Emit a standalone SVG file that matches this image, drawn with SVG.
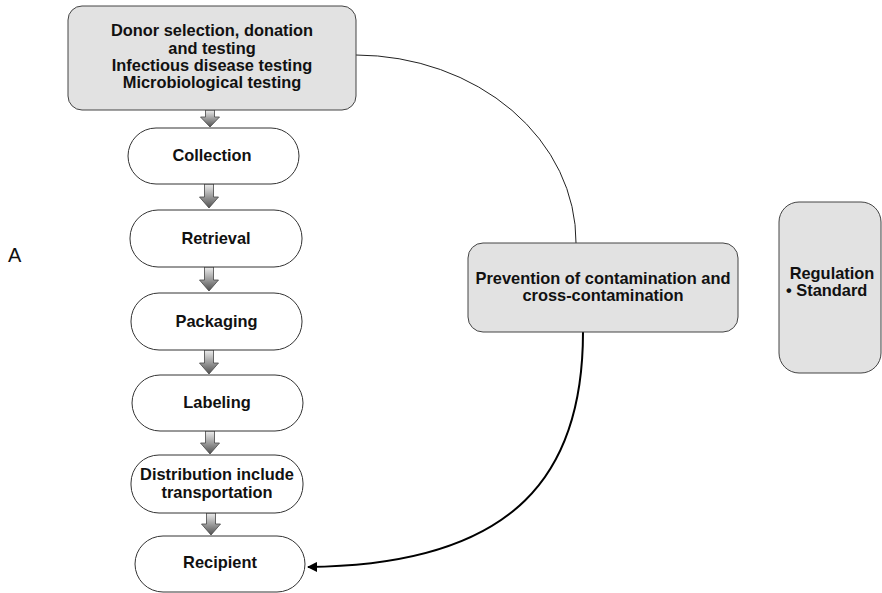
<svg xmlns="http://www.w3.org/2000/svg" width="882" height="593" viewBox="0 0 882 593">
<defs>
<linearGradient id="ag" x1="0" y1="0" x2="0" y2="1">
<stop offset="0" stop-color="#eeeeee"/>
<stop offset="1" stop-color="#505050"/>
</linearGradient>
<marker id="ah" viewBox="0 0 10 10" refX="9" refY="5" markerWidth="5" markerHeight="5" orient="auto">
<path d="M0,0 L10,5 L0,10 Z" fill="#000"/>
</marker>
<style>
.box{fill:#e2e2e2;stroke:#444;stroke-width:1}
.pill{fill:#fff;stroke:#333;stroke-width:1}
.t{font-family:"Liberation Sans",Arial,sans-serif;font-weight:bold;font-size:16.4px;fill:#111;text-anchor:middle}
.blk{fill:url(#ag);stroke:#444;stroke-width:0.8}
</style>
</defs>
<rect width="882" height="593" fill="#fff"/>
<text x="8" y="262" font-family="Liberation Sans,Arial,sans-serif" font-size="20" fill="#111">A</text>
<g id="connectors">
<path class="blk" d="M205.5,110 L214.5,110 L214.5,117 L219.5,117 L210,127 L200.5,117 L205.5,117 Z"/>
<path class="blk" d="M204.5,184 L213.5,184 L213.5,197 L218.5,197 L209,208 L199.5,197 L204.5,197 Z"/>
<path class="blk" d="M204.5,267 L213.5,267 L213.5,280 L218.5,280 L209,291 L199.5,280 L204.5,280 Z"/>
<path class="blk" d="M204.5,350 L213.5,350 L213.5,363 L218.5,363 L209,374 L199.5,363 L204.5,363 Z"/>
<path class="blk" d="M205.5,431 L214.5,431 L214.5,443 L219.5,443 L210,454 L200.5,443 L205.5,443 Z"/>
<path class="blk" d="M206.5,513 L215.5,513 L215.5,524 L220.5,524 L211,535 L201.5,524 L206.5,524 Z"/>
<path d="M356,55 A221,187 0 0 1 576,243" fill="none" stroke="#222" stroke-width="1"/>
<path d="M583,332 C583,470 520,565 308,567" fill="none" stroke="#000" stroke-width="2" marker-end="url(#ah)"/>
</g>
<g id="donor">
<rect class="box" x="68" y="6" width="288" height="104" rx="14"/>
<text class="t" x="212" y="36">Donor selection, donation</text>
<text class="t" x="212" y="53.5">and testing</text>
<text class="t" x="212" y="71">Infectious disease testing</text>
<text class="t" x="212" y="88">Microbiological testing</text>
</g>
<g id="collection">
<rect class="pill" x="128" y="128" width="171" height="56" rx="28"/>
<text class="t" x="212" y="161">Collection</text>
</g>
<g id="retrieval">
<rect class="pill" x="130" y="210" width="172" height="57" rx="28"/>
<text class="t" x="216" y="244">Retrieval</text>
</g>
<g id="packaging">
<rect class="pill" x="131" y="293" width="171" height="57" rx="28"/>
<text class="t" x="216.5" y="327">Packaging</text>
</g>
<g id="labeling">
<rect class="pill" x="132" y="375" width="171" height="56" rx="28"/>
<text class="t" x="217" y="408">Labeling</text>
</g>
<g id="distribution">
<rect class="pill" x="131" y="455" width="172" height="58" rx="28"/>
<text class="t" x="217" y="480">Distribution include</text>
<text class="t" x="217" y="498">transportation</text>
</g>
<g id="recipient">
<rect class="pill" x="135" y="536" width="170" height="56" rx="28"/>
<text class="t" x="220" y="568">Recipient</text>
</g>
<g id="prevention">
<rect class="box" x="468" y="243" width="270" height="89" rx="15"/>
<text class="t" x="603" y="284">Prevention of contamination and</text>
<text class="t" x="603" y="301">cross-contamination</text>
</g>
<g id="regulation">
<rect class="box" x="779" y="202" width="102" height="171" rx="20"/>
<text class="t" x="832" y="279">Regulation</text>
<text class="t" x="786" y="296" style="text-anchor:start">• Standard</text>
</g>
</svg>
